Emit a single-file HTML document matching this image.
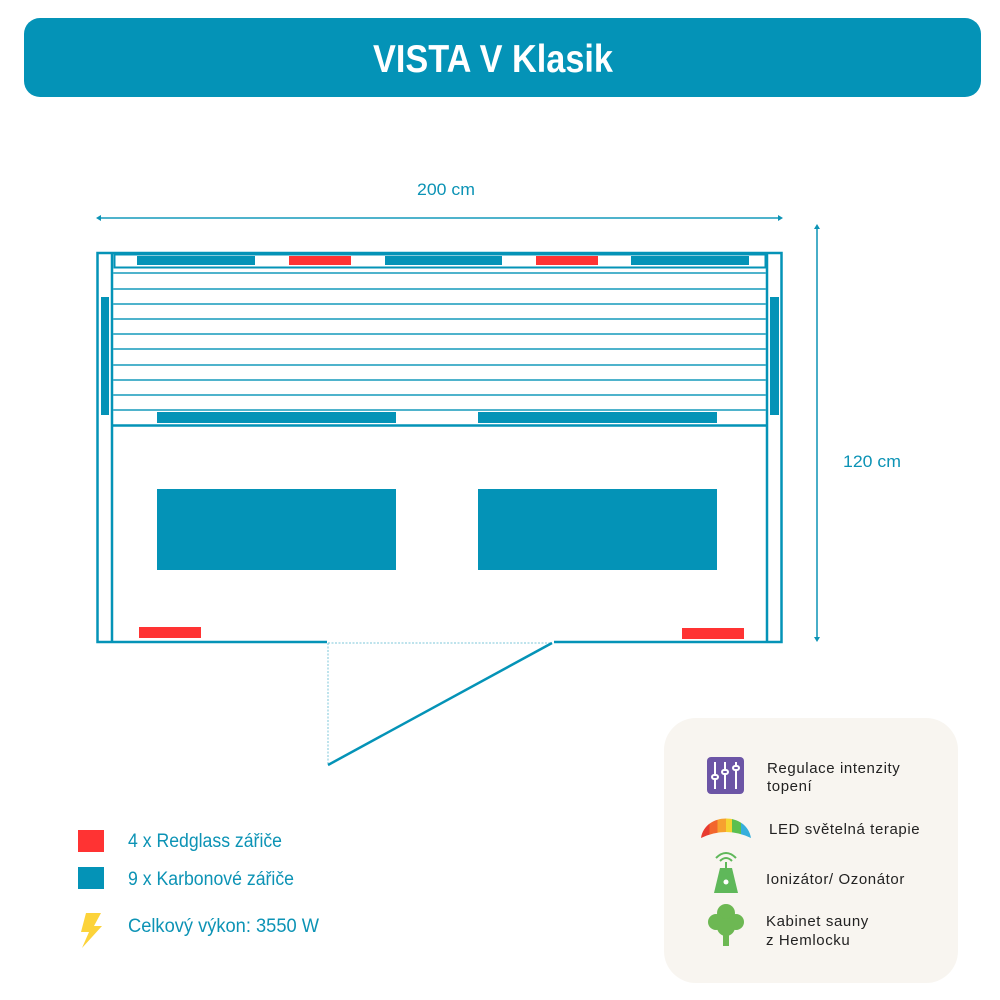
<!DOCTYPE html>
<html><head><meta charset="utf-8"><style>
html,body{margin:0;padding:0;background:#fff;width:1000px;height:1000px;overflow:hidden}
svg{display:block}
text{font-family:"Liberation Sans",sans-serif}
</style></head><body>
<svg width="1000" height="1000" viewBox="0 0 1000 1000" xmlns="http://www.w3.org/2000/svg">
<rect x="24" y="18" width="957" height="79" rx="16" fill="#0493b7"/>
<text x="493" y="72" text-anchor="middle" font-size="39" font-weight="bold" fill="#fff" textLength="240" lengthAdjust="spacingAndGlyphs">VISTA V Klasik</text>

<text x="446" y="195" text-anchor="middle" font-size="17" fill="#0c93b5" textLength="58" lengthAdjust="spacingAndGlyphs">200 cm</text>
<line x1="99" y1="218" x2="779" y2="218" stroke="#4fb3cc" stroke-width="2"/>
<polygon points="96,218 101,215 101,221" fill="#0c93b5"/>
<polygon points="783,218 778,215 778,221" fill="#0c93b5"/>
<line x1="817" y1="228" x2="817" y2="638" stroke="#0c93b5" stroke-width="1.5"/>
<polygon points="817,224 814,229 820,229" fill="#0c93b5"/>
<polygon points="817,642 814,637 820,637" fill="#0c93b5"/>
<text x="872" y="467" text-anchor="middle" font-size="17" fill="#0c93b5" textLength="58" lengthAdjust="spacingAndGlyphs">120 cm</text>

<g stroke="#0493b7" fill="none">
<path d="M327,642 H97.5 V253 H781.5 V642 H554" stroke-width="2.5"/>
<line x1="112" y1="253" x2="112" y2="642" stroke-width="2.5"/>
<line x1="767" y1="253" x2="767" y2="642" stroke-width="2.5"/>
<rect x="114.5" y="254.5" width="651" height="13" stroke-width="2"/>
<line x1="113" y1="425.5" x2="766" y2="425.5" stroke-width="2.5"/>
</g>
<g stroke="#4fb3cc" stroke-width="2">
<line x1="113" y1="273" x2="766" y2="273"/>
<line x1="113" y1="289" x2="766" y2="289"/>
<line x1="113" y1="304" x2="766" y2="304"/>
<line x1="113" y1="319" x2="766" y2="319"/>
<line x1="113" y1="334" x2="766" y2="334"/>
<line x1="113" y1="349" x2="766" y2="349"/>
<line x1="113" y1="365" x2="766" y2="365"/>
<line x1="113" y1="380" x2="766" y2="380"/>
<line x1="113" y1="395" x2="766" y2="395"/>
<line x1="113" y1="410" x2="766" y2="410"/>
</g>
<g fill="#0493b7">
<rect x="137" y="256" width="118" height="9"/>
<rect x="385" y="256" width="117" height="9"/>
<rect x="631" y="256" width="118" height="9"/>
<rect x="101" y="297" width="8" height="118"/>
<rect x="770" y="297" width="9" height="118"/>
<rect x="157" y="412" width="239" height="11"/>
<rect x="478" y="412" width="239" height="11"/>
<rect x="157" y="489" width="239" height="81"/>
<rect x="478" y="489" width="239" height="81"/>
</g>
<g fill="#ff3333">
<rect x="289" y="256" width="62" height="9"/>
<rect x="536" y="256" width="62" height="9"/>
<rect x="139" y="627" width="62" height="11"/>
<rect x="682" y="628" width="62" height="11"/>
</g>
<g stroke="#7cc7d9" stroke-width="1" stroke-dasharray="2,1.5" fill="none">
<line x1="328" y1="643" x2="328" y2="765"/>
<line x1="328" y1="643" x2="552" y2="643"/>
</g>
<line x1="328" y1="765" x2="552" y2="643" stroke="#0493b7" stroke-width="2.5"/>

<rect x="78" y="830" width="26" height="22" fill="#ff3333"/>
<rect x="78" y="867" width="26" height="22" fill="#0493b7"/>
<polygon points="86,913 101,913 94,926 102,926 82,948 89,932 81,932" fill="#fcd33a"/>
<text x="128" y="847" font-size="19" fill="#0c93b5" textLength="154" lengthAdjust="spacingAndGlyphs">4 x Redglass zářiče</text>
<text x="128" y="885" font-size="19" fill="#0c93b5" textLength="166" lengthAdjust="spacingAndGlyphs">9 x Karbonové zářiče</text>
<text x="128" y="932" font-size="19" fill="#0c93b5" textLength="191" lengthAdjust="spacingAndGlyphs">Celkový výkon: 3550 W</text>

<rect x="664" y="718" width="294" height="265" rx="32" fill="#f8f5f0"/>
<rect x="707" y="757" width="37" height="37" rx="4" fill="#6c55a6"/>
<g stroke="#fff" stroke-width="2" fill="#6c55a6">
<line x1="715" y1="762" x2="715" y2="789"/><line x1="725" y1="762" x2="725" y2="789"/><line x1="736" y1="762" x2="736" y2="789"/>
<rect x="712" y="775" width="6" height="4" rx="2"/><rect x="722" y="770" width="6" height="4" rx="2"/><rect x="733" y="766" width="6" height="4" rx="2"/>
</g>
<defs><linearGradient id="rb" x1="0" x2="1">
<stop offset="0" stop-color="#e83a2f"/><stop offset="0.17" stop-color="#e83a2f"/>
<stop offset="0.17" stop-color="#f2662d"/><stop offset="0.33" stop-color="#f2662d"/>
<stop offset="0.33" stop-color="#f7a12f"/><stop offset="0.5" stop-color="#f7a12f"/>
<stop offset="0.5" stop-color="#f5d431"/><stop offset="0.62" stop-color="#f5d431"/>
<stop offset="0.62" stop-color="#5bbf4f"/><stop offset="0.8" stop-color="#5bbf4f"/>
<stop offset="0.8" stop-color="#35aedc"/><stop offset="1" stop-color="#35aedc"/>
</linearGradient></defs>
<path d="M701,838 C705,812 747,812 751,838 Q726,826 701,838 Z" fill="url(#rb)"/>
<g fill="#5fb85a">
<polygon points="720,868 732,868 738,893 714,893"/>
<rect x="725" y="862" width="2" height="7"/>
</g>
<circle cx="726" cy="882" r="2.5" fill="#fff"/>
<g fill="none" stroke="#5fb85a" stroke-width="2">
<path d="M720,861 Q726,855 732,861"/><path d="M716,858 Q726,848 736,858"/>
</g>
<g fill="#6db853">
<circle cx="726" cy="913" r="9"/><circle cx="716" cy="922" r="8"/><circle cx="736" cy="922" r="8"/><circle cx="726" cy="927" r="9"/>
<rect x="723" y="928" width="6" height="18"/>
</g>
<g font-size="15" fill="#222" letter-spacing="0.6">
<text x="767" y="773">Regulace intenzity</text>
<text x="767" y="791">topení</text>
<text x="769" y="834">LED světelná terapie</text>
<text x="766" y="884">Ionizátor/ Ozonátor</text>
<text x="766" y="926">Kabinet sauny</text>
<text x="766" y="945">z Hemlocku</text>
</g>
</svg>
</body></html>
